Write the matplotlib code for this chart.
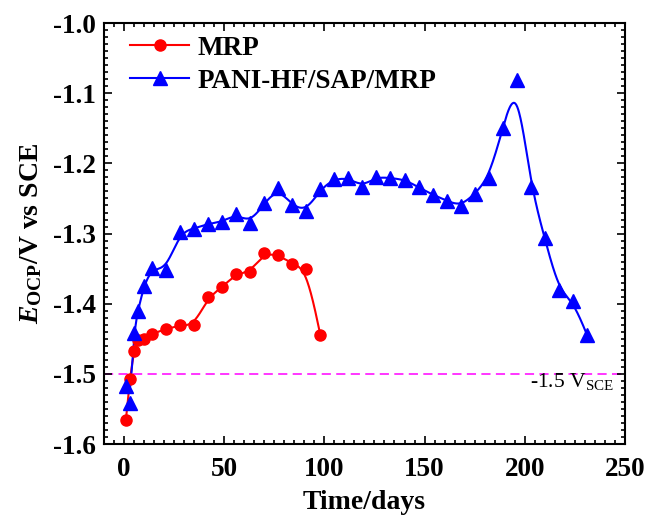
import numpy as np
from matplotlib import pyplot as plt

# OCP readings (days, volts vs SCE)
mrp_days = [1, 3, 5, 7, 10, 14, 21, 28, 35, 42, 49, 56, 63, 70, 77, 84, 91, 98]
mrp_ocp = [-1.5655, -1.508, -1.467, -1.452, -1.450, -1.443, -1.436, -1.431, -1.431,
           -1.391, -1.3765, -1.3575, -1.355, -1.328, -1.3305, -1.343, -1.350, -1.4444]

pani_days = [1, 3, 5, 7, 10, 14, 21, 28, 35, 42, 49, 56, 63, 70, 77, 84, 91, 98,
             105, 112, 119, 126, 133, 140, 147, 154, 161, 168, 175, 182, 189, 196,
             203, 210, 217, 224, 231]
pani_ocp = [-1.517, -1.542, -1.442, -1.410, -1.375, -1.349, -1.352, -1.298, -1.293,
            -1.286, -1.2835, -1.272, -1.2845, -1.257, -1.2355, -1.260, -1.268, -1.237,
            -1.222, -1.221, -1.233, -1.219, -1.221, -1.223, -1.234, -1.2445, -1.253,
            -1.261, -1.2435, -1.221, -1.150, -1.081, -1.233, -1.307, -1.381, -1.396,
            -1.444]

x_ticks = [0, 50, 100, 150, 200, 250]
y_ticks = [-1.6, -1.5, -1.4, -1.3, -1.2, -1.1, -1.0]
limit_v = -1.5


def bspline(x, y, steps=30):
    """uniform cubic B-spline with the points as control points (like Origin's B-Spline connect)"""
    px = np.r_[[x[0]] * 2, x, [x[-1]] * 2].astype(float)
    py = np.r_[[y[0]] * 2, y, [y[-1]] * 2].astype(float)
    t = np.linspace(0, 1, steps, endpoint=False)
    b = np.array([(1 - t) ** 3, 3 * t ** 3 - 6 * t ** 2 + 4,
                  -3 * t ** 3 + 3 * t ** 2 + 3 * t + 1, t ** 3]) / 6
    xs, ys = [], []
    for i in range(len(px) - 3):
        xs.append(b.T @ px[i:i + 4])
        ys.append(b.T @ py[i:i + 4])
    xs.append([px[-1]])
    ys.append([py[-1]])
    return np.concatenate(xs), np.concatenate(ys)


plt.rcParams['font.family'] = 'Liberation Serif'
plt.rcParams['font.weight'] = 'bold'
plt.rcParams['axes.labelweight'] = 'bold'
plt.rcParams['axes.unicode_minus'] = False
plt.rcParams['mathtext.fontset'] = 'custom'
plt.rcParams['mathtext.rm'] = 'Liberation Serif:weight=normal'
plt.rcParams['mathtext.bf'] = 'Liberation Serif:weight=bold'
plt.rcParams['mathtext.it'] = 'Liberation Serif:italic:weight=bold'

fig = plt.figure(figsize=(6.49, 5.19), dpi=100)
ax = fig.add_axes([0.160, 0.1445, 0.803, 0.811])

ax.axhline(limit_v, color='#ff00ff', lw=1.1, dashes=(6, 3.5), zorder=1)

for days, ocp, col, mk, ms, name in ((mrp_days, mrp_ocp, '#ff0000', 'o', 8, 'MRP'),
                                      (pani_days, pani_ocp, '#0000ff', '^', 9.5, 'PANI-HF/SAP/MRP')):
    sx, sy = bspline(days, ocp)
    ax.plot(sx, sy, color=col, lw=1.5, zorder=2)
    ax.plot(days, ocp, ls='none', marker=mk, ms=ms, color=col, zorder=3)
    ax.plot([], [], color=col, lw=1.5, marker=mk, ms=ms, label=name)  # legend handle

ax.text(244.5, -1.5185, '-1.5 V$_{\\mathrm{SCE}}$', ha='right', va='baseline',
        fontsize=15.5, fontweight='normal')

ax.set_xlim(-10, 250)
ax.set_ylim(-1.6, -1.0)
ax.set_xticks(x_ticks)
ax.set_xticks(np.arange(-10, 251, 5), minor=True)
ax.set_yticks(y_ticks)
ax.set_yticks(np.arange(-1.6, -0.995, 0.01), minor=True)
ax.set_yticklabels([f'{v:.1f}' for v in y_ticks])

ax.tick_params(which='both', direction='in', top=True, right=True, width=1.2, labelsize=19.5)
ax.tick_params(which='major', length=5.5)
ax.tick_params(which='minor', length=3)
ax.tick_params(axis='x', pad=9)
ax.tick_params(axis='y', pad=6)
[s.set_linewidth(1.5) for s in ax.spines.values()]

ax.set_xlabel('Time/days', fontsize=20, fontweight='bold', labelpad=6)
ax.set_ylabel('$E_{\\mathbf{OCP}}$/V vs SCE', fontsize=20, fontweight='bold', labelpad=6)

ax.legend(loc='upper left', bbox_to_anchor=(0.05, 0.97), frameon=False, fontsize=19.5,
          handlelength=2.2, handletextpad=0.3, labelspacing=0.3, borderaxespad=0,
          borderpad=0)

fig.savefig('out.png', dpi=100)
